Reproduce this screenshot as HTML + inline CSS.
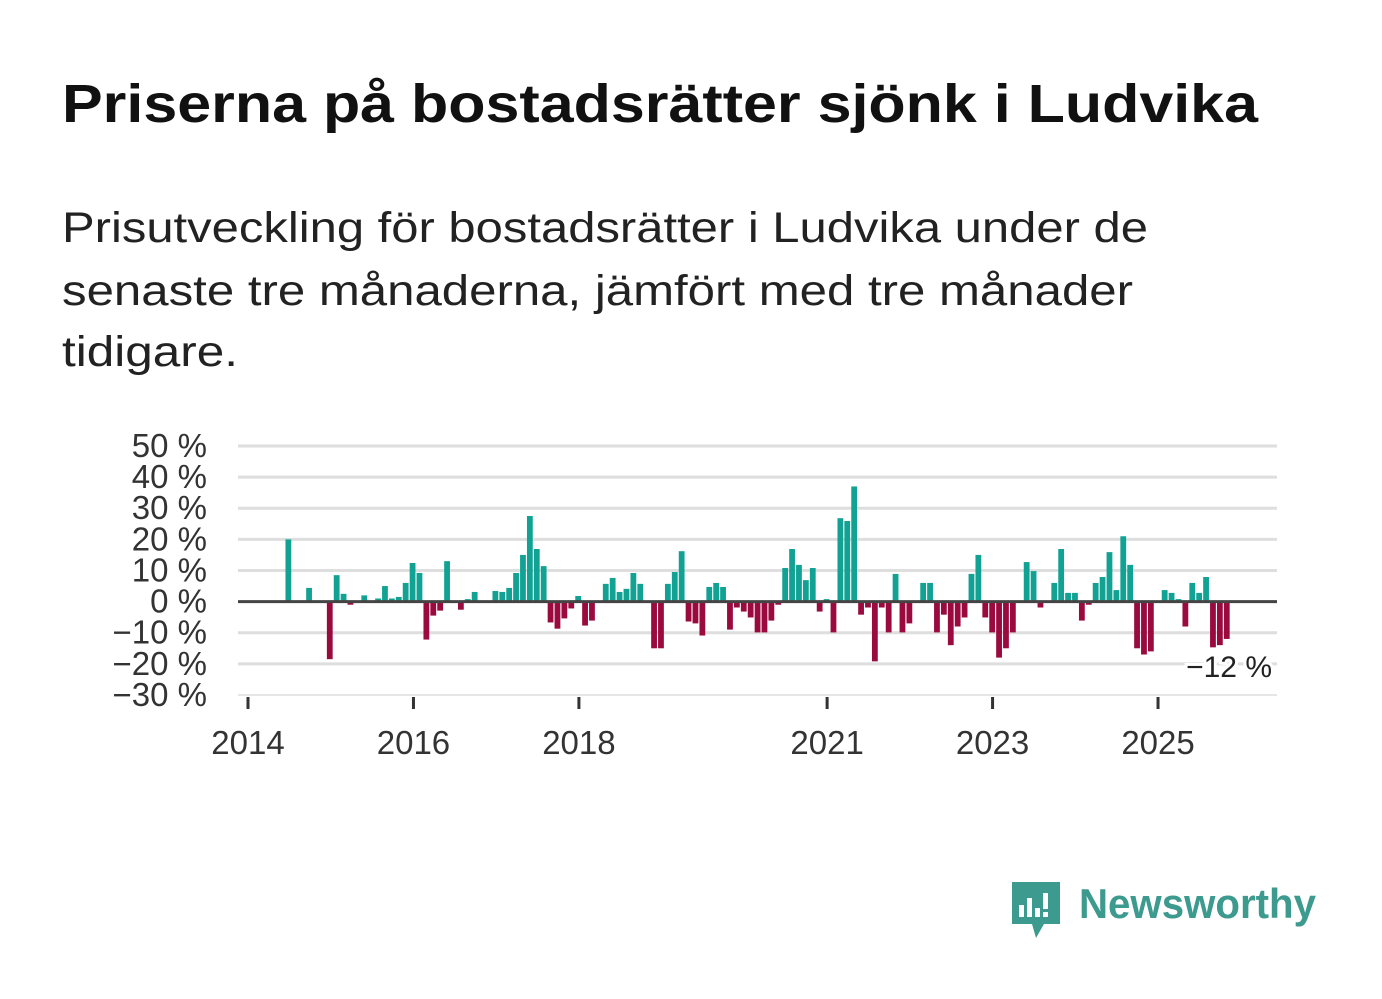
<!DOCTYPE html>
<html><head><meta charset="utf-8"><style>
html,body{margin:0;padding:0;background:#fff;}
svg{display:block;font-family:"Liberation Sans",sans-serif;}
</style></head><body>
<svg width="1382" height="999" viewBox="0 0 1382 999">
<text x="62" y="122" font-size="54" font-weight="bold" fill="#111" textLength="1196" lengthAdjust="spacingAndGlyphs">Priserna på bostadsrätter sjönk i Ludvika</text>
<g font-size="43" fill="#222">
<text x="62" y="242" textLength="1086" lengthAdjust="spacingAndGlyphs">Prisutveckling för bostadsrätter i Ludvika under de</text>
<text x="62" y="305" textLength="1071" lengthAdjust="spacingAndGlyphs">senaste tre månaderna, jämfört med tre månader</text>
<text x="62" y="366" textLength="176" lengthAdjust="spacingAndGlyphs">tidigare.</text>
</g>
<g id="grid"></g>
<g id="ylabels" font-size="33" fill="#333" text-anchor="end"></g>
<g id="bars"></g>
<line id="zero" x1="238" x2="1277" stroke="#444" stroke-width="3"/>
<g id="xaxis" font-size="33" fill="#333" text-anchor="middle"></g>
<text id="lastlabel" x="1272" y="677" font-size="30" fill="#222" text-anchor="end" stroke="#fff" stroke-width="6" paint-order="stroke">−12 %</text>
<g>
<path d="M1012 882 h48 v42 h-16 l-8 14 l-4 -14 h-20 z" fill="#3d9a8e"/>
<rect x="1019" y="905" width="5" height="12" fill="#fff"/>
<rect x="1027" y="898" width="5" height="19" fill="#fff"/>
<rect x="1035" y="908" width="5" height="9" fill="#fff"/>
<rect x="1043" y="893" width="5" height="16" fill="#fff"/>
<rect x="1043" y="912" width="5" height="5" fill="#fff"/>
<text x="1079" y="918" font-size="42" font-weight="bold" fill="#3d9a8e" textLength="237" lengthAdjust="spacingAndGlyphs">Newsworthy</text>
</g>
</svg>
<script>
const months = Array.from({length:143},(_,i)=>i);
const changeIdx = [6,9,12,13,14,15,17,19,20,21,22,23,24,25,26,27,28,29,31,32,33,36,37,38,39,40,41,42,43,44,45,46,47,48,49,50,52,53,54,55,56,57,59,60,61,62,63,64,65,66,67,68,69,70,71,72,73,74,75,76,77,78,79,80,81,82,83,84,85,86,87,88,89,90,91,92,93,94,95,96,98,99,100,101,102,103,104,105,106,107,108,109,110,111,113,114,115,117,118,119,120,121,122,123,124,125,126,127,128,129,130,131,133,134,135,136,137,138,139,140,141,142];
const changeVal = [20,4.4,-18.5,8.5,2.5,-1,2,1,5,1,1.5,6,12.4,9.2,-12.2,-4.5,-2.9,13,-2.6,0.8,3.1,3.4,3.1,4.4,9.2,15,27.5,16.9,11.4,-6.7,-8.7,-5.4,-2.2,1.8,-7.7,-6.1,5.7,7.6,3.1,4.1,9.2,5.7,-15,-15,5.7,9.5,16.2,-6.4,-7,-10.9,4.7,6,4.7,-9,-1.9,-3.2,-5.1,-9.9,-9.9,-6.1,-1,10.8,16.9,11.8,6.9,10.8,-3.2,0.8,-9.9,26.8,25.9,37,-4.2,-1.9,-19.2,-1.9,-9.9,8.9,-9.9,-7,6,6,-9.9,-4.2,-14,-8,-5.1,8.9,15,-5.1,-9.9,-18,-15,-9.9,12.7,9.8,-1.9,6,16.9,2.8,2.8,-6.1,-1,6,7.9,15.9,3.7,21,11.8,-15,-17,-16,3.7,2.8,0.8,-8,6,2.8,7.9,-14.7,-14,-12];
const yTicks = [50,40,30,20,10,0,-10,-20,-30];
const yTickLabels = ["50 %","40 %","30 %","20 %","10 %","0 %","−10 %","−20 %","−30 %"];
const xTickYears = [2014,2016,2018,2021,2023,2025];
const NS='http://www.w3.org/2000/svg';
const y = v => 601.6 - v*3.112;
const xm = m => 248 + (m-0.15)*6.9;
const xy = yr => 248 + (yr-2014)*82.73;
const grid=document.getElementById('grid'), yl=document.getElementById('ylabels');
yTicks.forEach((t,i)=>{
  if(t!==0){
    const l=document.createElementNS(NS,'line');
    
    
    l.setAttribute('x1',238);l.setAttribute('x2',1277);
    l.setAttribute('y1',y(t));l.setAttribute('y2',y(t));
    l.setAttribute('stroke',t===-30?'#e6e6e6':'#dedede');l.setAttribute('stroke-width',t===-30?2:3);
    grid.appendChild(l);
  }
  const tx=document.createElementNS(NS,'text');
  
  
  tx.setAttribute('x',207);tx.setAttribute('y',y(t)+11);
  tx.textContent=yTickLabels[i];
  yl.appendChild(tx);
});
const z=document.getElementById('zero');
z.setAttribute('y1',y(0));z.setAttribute('y2',y(0));
const bars=document.getElementById('bars');
changeIdx.forEach((m,i)=>{
  const v=changeVal[i];
  const r=document.createElementNS(NS,'rect');
  
  
  r.setAttribute('x',xm(m)-2.9);r.setAttribute('width',5.8);
  r.setAttribute('y',Math.min(y(v),y(0)));r.setAttribute('height',Math.abs(y(v)-y(0)));
  r.setAttribute('fill',v>=0?'#12a294':'#9b0a3e');
  bars.appendChild(r);
});
const xa=document.getElementById('xaxis');
xTickYears.forEach(yr=>{
  const l=document.createElementNS(NS,'line');
  
  
  l.setAttribute('x1',xy(yr));l.setAttribute('x2',xy(yr));
  l.setAttribute('y1',697);l.setAttribute('y2',709);
  l.setAttribute('stroke','#333');l.setAttribute('stroke-width',3);
  xa.appendChild(l);
  const t=document.createElementNS(NS,'text');
  
  
  t.setAttribute('x',xy(yr));t.setAttribute('y',754);
  t.textContent=yr;
  xa.appendChild(t);
});
const last=changeVal[changeVal.length-1];
document.getElementById('lastlabel').textContent=(last<0?'−':'')+Math.round(Math.abs(last))+' %';
</script>
</body></html>
